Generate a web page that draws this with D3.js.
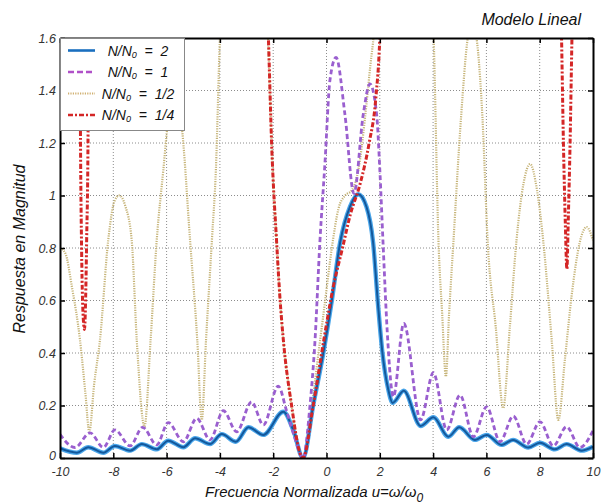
<!DOCTYPE html>
<html lang="es">
<head>
<meta charset="UTF-8">
<title>Modelo Lineal</title>
<script src="https://d3js.org/d3.v7.min.js"></script>
<style>
  body { margin: 0; background: #fff; }
  svg { display: block; font-family: Arial, "Liberation Sans", sans-serif; font-style: italic; }
  .grid line { stroke: #8c8c8c; stroke-width: 1; stroke-dasharray: 1,2; }
  .axis path { stroke: #000; stroke-width: 2; }
  .axis line { stroke: #000; stroke-width: 1.5; }
  .axis text { fill: #333; font-size: 12.5px; font-style: italic; }
</style>
</head>
<body>
<svg width="601" height="504"></svg>
<script>
// ticks
const xTicks = [-10, -8, -6, -4, -2, 0, 2, 4, 6, 8, 10];
const yTicks = [0, 0.2, 0.4, 0.6, 0.8, 1, 1.2, 1.4, 1.6];

// legend labels (N/N0 = ...)
const ratios = ["2", "1", "1/2", "1/4"];

// N/N0 = 2  [u, |H|]
const curve2 = [
  [-10, 0.037], [-9.37, 0.02], [-8.94, 0.041], [-8.37, 0.02], [-7.94, 0.046], [-7.37, 0.028],
  [-6.93, 0.053], [-6.37, 0.033], [-5.94, 0.066], [-5.37, 0.041], [-4.93, 0.075], [-4.37, 0.053],
  [-3.93, 0.091], [-3.4, 0.062], [-2.93, 0.117], [-2.37, 0.088], [-1.62, 0.176], [-1.25, 0.107],
  [-0.88, 0], [-0.5, 0.2], [-0.12, 0.4], [0.2, 0.6], [0.51, 0.82], [0.88, 0.957], [1.19, 1.005],
  [1.5, 0.957], [1.75, 0.82], [1.94, 0.576], [2.1, 0.4], [2.32, 0.26], [2.48, 0.21], [2.9, 0.256],
  [3.53, 0.122], [4.01, 0.155], [4.57, 0.081], [4.98, 0.117], [5.57, 0.069], [6.01, 0.088],
  [6.57, 0.05], [7.0, 0.069], [7.57, 0.04], [8.01, 0.058], [8.57, 0.033], [9.01, 0.053],
  [9.58, 0.028], [10, 0.043]
];

// N/N0 = 1
const curve1 = [
  [-10, 0.09], [-9.44, 0.04], [-8.87, 0.096], [-8.37, 0.04], [-7.94, 0.107], [-7.37, 0.046],
  [-6.9, 0.117], [-6.37, 0.05], [-5.94, 0.135], [-5.37, 0.062], [-4.87, 0.151], [-4.37, 0.069],
  [-3.87, 0.18], [-3.37, 0.1], [-2.81, 0.214], [-2.37, 0.126], [-1.81, 0.274], [-1.5, 0.18],
  [-1.2, 0.08], [-0.88, 0], [-0.62, 0.2], [-0.43, 0.45], [-0.25, 0.82], [-0.06, 1.12],
  [0.13, 1.44], [0.36, 1.526], [0.69, 1.31], [1.03, 1.008], [1.38, 1.31], [1.63, 1.425],
  [1.88, 1.31], [2.0, 1.1], [2.13, 0.8], [2.28, 0.48], [2.51, 0.234], [2.9, 0.513],
  [3.53, 0.145], [4.01, 0.325], [4.51, 0.107], [5.01, 0.24], [5.51, 0.081], [6.01, 0.195],
  [6.51, 0.062], [7.01, 0.16], [7.51, 0.053], [8.01, 0.138], [8.51, 0.046], [9.01, 0.119],
  [9.51, 0.04], [10, 0.104]
];

// N/N0 = 1/2 (goes off the top of the axes in places)
const curveHalf = [
  [-10, 0.8], [-9.8, 0.78], [-9.55, 0.65], [-9.25, 0.45], [-9.05, 0.25], [-8.9, 0.1],
  [-8.72, 0.28], [-8.5, 0.45], [-8.19, 0.83], [-7.95, 0.98], [-7.78, 1.0], [-7.55, 0.96],
  [-7.31, 0.83], [-7.12, 0.45], [-6.83, 0.12], [-6.6, 0.45], [-6.37, 0.83], [-6.12, 1.1],
  [-5.95, 1.28], [-5.7, 1.38], [-5.45, 1.28], [-5.12, 0.83], [-4.85, 0.45], [-4.68, 0.145],
  [-4.52, 0.45], [-4.3, 0.83], [-4.15, 1.1], [-4.0, 1.6], [-3.85, 1.9], [-3.1, 2.4],
  [-2.35, 1.9], [-2.2, 1.62], [-2.06, 1.2], [-1.87, 0.82], [-1.74, 0.6], [-1.62, 0.45],
  [-1.31, 0.2], [-1.0, 0.02], [-0.88, 0], [-0.55, 0.2], [-0.3, 0.4], [-0.05, 0.6], [0.2, 0.8],
  [0.45, 0.95], [0.7, 1.0], [0.95, 1.02], [1.2, 1.1], [1.45, 1.3], [1.65, 1.5], [1.78, 1.62],
  [1.95, 1.9], [2.9, 2.4], [3.85, 1.9], [4.02, 1.6], [4.2, 0.83], [4.34, 0.55], [4.48, 0.31],
  [4.6, 0.55], [4.76, 0.82], [5.05, 1.3], [5.3, 1.6], [5.47, 1.66], [5.63, 1.6], [5.85, 1.3],
  [6.05, 0.82], [6.35, 0.5], [6.63, 0.19], [6.88, 0.5], [7.13, 0.83], [7.4, 1.05], [7.64, 1.12],
  [7.9, 1.02], [8.14, 0.82], [8.45, 0.45], [8.7, 0.145], [8.95, 0.38], [9.2, 0.62],
  [9.5, 0.82], [9.76, 0.88], [10, 0.83]
];

// N/N0 = 1/4 (only three pieces fall inside the axes)
const curveQuarter = [
  [-9.28, 1.75], [-9.25, 1.6], [-9.23, 1.2], [-9.19, 0.8], [-9.12, 0.52], [-9.08, 0.49],
  [-9.04, 0.6], [-9.0, 0.83], [-8.95, 1.2], [-8.93, 1.6], [-8.91, 1.75],
  null,
  [-2.25, 1.8], [-2.18, 1.6], [-2.06, 1.2], [-1.87, 0.82], [-1.74, 0.6], [-1.62, 0.45],
  [-1.31, 0.2], [-1.0, 0.02], [-0.88, 0], [-0.5, 0.2], [-0.1, 0.45], [0.25, 0.65], [0.6, 0.8],
  [0.9, 0.93], [1.25, 1.04], [1.6, 1.2], [1.85, 1.37], [2.0, 1.6], [2.05, 1.75],
  null,
  [8.79, 1.75], [8.82, 1.6], [8.89, 1.2], [8.96, 0.9], [9.02, 0.72], [9.07, 0.9],
  [9.14, 1.2], [9.21, 1.6], [9.24, 1.75]
];

const margin = { top: 38, right: 8, bottom: 46, left: 60 };
const width = 601, height = 504;
const innerW = width - margin.left - margin.right;
const innerH = height - margin.top - margin.bottom;

const svg = d3.select("svg");
const g = svg.append("g").attr("transform", `translate(${margin.left},${margin.top})`);

const x = d3.scaleLinear().domain([-10, 10]).range([0, innerW]);
const y = d3.scaleLinear().domain([0, 1.6]).range([innerH, 0]);

// grid
g.append("g").attr("class", "grid")
  .selectAll("line").data(xTicks.slice(1, -1)).join("line")
  .attr("x1", d => x(d)).attr("x2", d => x(d))
  .attr("y1", 0).attr("y2", innerH);
g.append("g").attr("class", "grid")
  .selectAll("line").data(yTicks.slice(1, -1)).join("line")
  .attr("y1", d => y(d)).attr("y2", d => y(d))
  .attr("x1", 0).attr("x2", innerW);

// series
g.append("clipPath").attr("id", "plotClip")
  .append("rect").attr("width", innerW).attr("height", innerH);

const line = d3.line()
  .defined(d => d !== null)
  .x(d => x(d[0]))
  .y(d => y(d[1]))
  .curve(d3.curveMonotoneX);

const plot = g.append("g").attr("clip-path", "url(#plotClip)");

plot.append("path").datum(curveHalf)
  .attr("fill", "none").attr("stroke", "#c6b478")
  .attr("stroke-width", 2.2).attr("stroke-dasharray", "1.2,1.2")
  .attr("d", line);

// blue drawn with a lighter halo like the original figure
plot.append("path").datum(curve2)
  .attr("fill", "none").attr("stroke", "#4aa6ea")
  .attr("stroke-width", 4.4).attr("stroke-linejoin", "round")
  .attr("d", line);
plot.append("path").datum(curve2)
  .attr("fill", "none").attr("stroke", "#13589c")
  .attr("stroke-width", 2).attr("stroke-linejoin", "round")
  .attr("d", line);

plot.append("path").datum(curve1)
  .attr("fill", "none").attr("stroke", "#9a5fcf")
  .attr("stroke-width", 2.8).attr("stroke-dasharray", "5,3")
  .attr("d", line);

plot.append("path").datum(curveQuarter)
  .attr("fill", "none").attr("stroke", "#d42626")
  .attr("stroke-width", 3).attr("stroke-dasharray", "5,2,2,2")
  .attr("d", line);

// axes (ticks pointing inward, box all around)
g.append("g").attr("class", "axis")
  .attr("transform", `translate(0,${innerH})`)
  .call(d3.axisBottom(x).tickValues(xTicks).tickSizeInner(-5).tickSizeOuter(0).tickPadding(9)
    .tickFormat(d => String(d)));
g.append("g").attr("class", "axis")
  .call(d3.axisLeft(y).tickValues(yTicks).tickSizeInner(-5).tickSizeOuter(0).tickPadding(4)
    .tickFormat(d => String(+d.toFixed(1))));
g.append("g").attr("class", "axis")
  .call(d3.axisTop(x).tickValues(xTicks).tickSizeInner(-5).tickSizeOuter(0).tickFormat(""));
g.append("g").attr("class", "axis")
  .attr("transform", `translate(${innerW},0)`)
  .call(d3.axisRight(y).tickValues(yTicks).tickSizeInner(-5).tickSizeOuter(0).tickFormat(""));

// nudge the "0" on the y axis up a little so it clears "-10"
g.selectAll(".axis text").filter(function (d) { return d === 0 && this.getAttribute("x") < 0; })
  .attr("dy", "0.1em");

// legend
const legend = g.append("g");
legend.append("rect")
  .attr("x", 0.5).attr("y", 0.5).attr("width", 124).attr("height", 92)
  .attr("fill", "#fff").attr("stroke", "#888").attr("stroke-width", 1);

const legendStyles = [
  { color: "#1a6fbf", dash: null, w: 2.6 },
  { color: "#b050c8", dash: "6,3", w: 2.6 },
  { color: "#d0b070", dash: "1.2,1.2", w: 1.8 },
  { color: "#d42626", dash: "5,2,2,2", w: 2.6 }
];

ratios.forEach((r, i) => {
  const ry = 12.5 + i * 21.5;
  const s = legendStyles[i];
  legend.append("line")
    .attr("x1", 8).attr("x2", 35).attr("y1", ry).attr("y2", ry)
    .attr("stroke", s.color).attr("stroke-width", s.w)
    .attr("stroke-dasharray", s.dash);
  const t = legend.append("text")
    .attr("x", 78).attr("y", ry + 5)
    .attr("text-anchor", "middle")
    .attr("font-size", 14)
    .style("white-space", "pre")
    .attr("fill", "#111");
  t.append("tspan").text("N/N");
  t.append("tspan").attr("font-size", 9).attr("dy", 2).text("0");
  t.append("tspan").attr("dy", -2).text("  =  " + r);
});

// title and axis labels
svg.append("text")
  .attr("x", 581).attr("y", 25)
  .attr("text-anchor", "end")
  .attr("font-size", 16)
  .attr("fill", "#111")
  .text("Modelo Lineal");

svg.append("text")
  .attr("transform", "translate(25,249) rotate(-90)")
  .attr("text-anchor", "middle")
  .attr("font-size", 16)
  .attr("fill", "#111")
  .text("Respuesta en Magnitud");

const xl = svg.append("text")
  .attr("x", 205).attr("y", 497)
  .attr("font-size", 15)
  .attr("fill", "#111");
xl.append("tspan").text("Frecuencia Normalizada u=ω/ω");
xl.append("tspan").attr("font-size", 12).attr("dy", 5).text("0");
</script>
</body>
</html>
